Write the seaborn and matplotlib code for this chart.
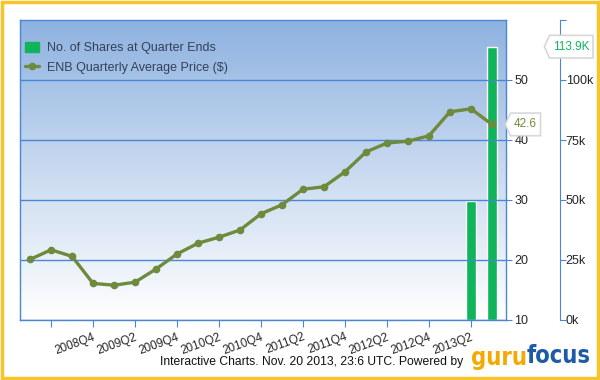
import numpy as np
import pandas as pd
import seaborn as sns
import matplotlib.pyplot as plt
from matplotlib.colors import LinearSegmentedColormap
from matplotlib.ticker import FuncFormatter
from matplotlib.patches import Patch
from matplotlib.path import Path

# quarterly data
quarters = ['2008Q1', '2008Q2', '2008Q3', '2008Q4', '2009Q1', '2009Q2', '2009Q3', '2009Q4',
            '2010Q1', '2010Q2', '2010Q3', '2010Q4', '2011Q1', '2011Q2', '2011Q3', '2011Q4',
            '2012Q1', '2012Q2', '2012Q3', '2012Q4', '2013Q1', '2013Q2', '2013Q3']
avg_price = [20.1, 21.7, 20.6, 16.1, 15.8, 16.3, 18.5, 21.0,
             22.8, 23.8, 25.0, 27.7, 29.2, 31.8, 32.2, 34.7,
             38.0, 39.5, 39.8, 40.7, 44.7, 45.2, 42.6]
share_quarters = ['2013Q2', '2013Q3']
shares = [49600, 113900]
tick_labels = ['', '2008Q4', '2009Q2', '2009Q4', '2010Q2', '2010Q4', '2011Q2',
               '2011Q4', '2012Q2', '2012Q4', '2013Q2']

BLUE = '#4a86d6'
OLIVE = '#6e8a3c'
GREEN = '#10b45a'
GOLD = '#f7c52b'

sns.set_style('white')
plt.rcParams['font.family'] = ['Liberation Sans', 'DejaVu Sans']


def tag_box(x0, y0, width, height, mutation_size):
    # label tag with a point on the left
    padx = mutation_size * 0.3
    pady = mutation_size * 0.45
    x0, y0 = x0 - padx, y0 - pady
    x1, y1 = x0 + width + 2 * padx, y0 + height + 2 * pady
    h = (y1 - y0) / 2
    tip = x0 - h * 0.45
    return Path([(tip, y0 + h), (x0, y1), (x1, y1), (x1, y0), (x0, y0), (tip, y0 + h)],
                closed=True)


df_price = pd.DataFrame({'q': np.arange(len(quarters)), 'price': avg_price})
df_shares = pd.DataFrame({'q': [quarters.index(q) for q in share_quarters], 'shares': shares})

fig = plt.figure(figsize=(6, 3.8), dpi=100)
pos = [20 / 600, 60 / 380, 486 / 600, 300 / 380]

# background gradient in its own axes
bg = fig.add_axes(pos, zorder=0)
cmap = LinearSegmentedColormap.from_list('bg', ['#ffffff', '#c9daf0', '#8eb2e0'])
grad = np.linspace(0, 1, 256).reshape(-1, 1)
bg.imshow(grad, cmap=cmap, aspect='auto', extent=(0, 1, 0, 1), origin='lower')
bg.set_axis_off()

ax2 = fig.add_axes(pos, zorder=1)   # shares
ax = fig.add_axes(pos, zorder=2)    # price
ax.patch.set_visible(False)
ax2.patch.set_visible(False)

sns.barplot(data=df_shares, x='q', y='shares', ax=ax2, native_scale=True,
            color=GREEN, width=0.45, saturation=1)
sns.lineplot(data=df_price, x='q', y='price', ax=ax, color=OLIVE, lw=2.4,
             marker='o', markersize=5.5, markeredgewidth=0,
             label='ENB Quarterly Average Price ($)')

for a in (ax, ax2):
    a.set_xlim(-0.48, 22.67)
    a.set_xlabel('')
    a.set_ylabel('')
ax.set_ylim(10, 60)
ax2.set_ylim(0, 125000)

# price axis on the right
ax.yaxis.tick_right()
ax.set_yticks([10, 20, 30, 40, 50])
ax.grid(axis='y', color=BLUE, lw=1)
ax.set_xticks(range(1, 23, 2))
ax.set_xticklabels(tick_labels, rotation=20, ha='right', rotation_mode='anchor', fontsize=8.5)
ax.tick_params(axis='x', length=5, color=BLUE, pad=3, bottom=True)
ax.tick_params(axis='y', length=4, color=BLUE, labelsize=9, right=True, left=False, pad=2)
for s in ax.spines.values():
    s.set_color(BLUE)
    s.set_linewidth(1)

# shares axis, offset to the right
ax2.set_xticks([])
ax2.yaxis.tick_right()
ax2.set_yticks([0, 25000, 50000, 75000, 100000, 125000])
ax2.yaxis.set_major_formatter(FuncFormatter(lambda v, p: '' if v > 100000 else f'{int(v / 1000)}k'))
ax2.spines['right'].set_position(('outward', 39))
ax2.spines['right'].set_color(BLUE)
for s in ['top', 'left', 'bottom']:
    ax2.spines[s].set_visible(False)
ax2.tick_params(axis='y', length=4, color=BLUE, labelsize=9, pad=0, right=True, left=False)

# legend
h, l = ax.get_legend_handles_labels()
leg = ax.legend([Patch(color=GREEN)] + h, ['No. of Shares at Quarter Ends'] + l,
                loc='upper left', bbox_to_anchor=(-0.012, 0.965), frameon=False,
                fontsize=9, handlelength=1.1, handleheight=0.9, labelspacing=0.55,
                handletextpad=0.6)
for t in leg.get_texts():
    t.set_color('#33405a')

# value tags
ax.annotate(f'{avg_price[-1]}', xy=(1.0, avg_price[-1]), xycoords=('axes fraction', 'data'),
            xytext=(8, 0), textcoords='offset pixels', va='center', ha='left',
            fontsize=8.5, color=OLIVE,
            bbox=dict(boxstyle=tag_box, fc='white', ec='#d8d8d8', lw=1.2))
ax2.annotate(f'{shares[-1] / 1000:.1f}K', xy=(1.0, shares[-1]), xycoords=('axes fraction', 'data'),
             xytext=(47, 0), textcoords='offset pixels', va='center', ha='left',
             fontsize=8.5, color=GREEN,
             bbox=dict(boxstyle=tag_box, fc='white', ec='#d8d8d8', lw=1.2))

# footer
fig.text(160 / 600, 1 - 362 / 380, 'Interactive Charts. Nov. 20 2013, 23:6 UTC. Powered by',
         fontsize=8.7, va='center', ha='left', color='#111111')
fig.text(527 / 600, 1 - 358 / 380, 'guru', fontsize=17, fontweight='bold', color='#f4a900',
         va='center', ha='right', family='DejaVu Sans', stretch='condensed')
fig.text(527 / 600, 1 - 356 / 380, 'focus', fontsize=17, fontweight='bold', color='#1d5aa8',
         va='center', ha='left', family='DejaVu Sans', stretch='condensed')

# golden frame
fig.patches.append(plt.Rectangle((0.003, 0.004), 0.994, 0.992, transform=fig.transFigure,
                                 fill=False, ec=GOLD, lw=2.5))

fig.savefig('out.png', dpi=100)
